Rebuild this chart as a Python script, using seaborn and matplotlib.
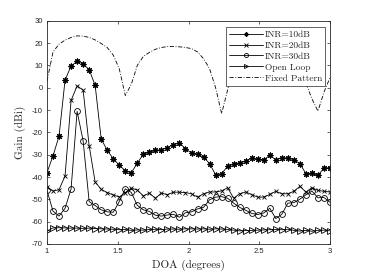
import numpy as np
import pandas as pd
import matplotlib
matplotlib.use("Agg")
import matplotlib.pyplot as plt
import seaborn as sns

# ---- data ----
doa = np.linspace(1.0, 3.0, 48)

inr10 = [-38, -30.5, -21.7, 3.4, 9.7, 11.8, 10.6, 8.1, 1.0, -23, -28, -31.8,
         -34.7, -37.2, -38.1, -33.8, -29.8, -28.9, -28.1, -27.8, -26.8, -25.5,
         -24.8, -27.3, -29.3, -29.9, -31.1, -34, -39, -38.5, -35.2, -34.2,
         -33.6, -33, -31.5, -32.1, -32.3, -30.3, -32.3, -31.3, -31.5, -32.3,
         -34, -38.5, -38.2, -39.3, -36, -35.8]

inr20 = [-44.5, -46.3, -45.7, -39.5, -5.7, 0.8, -1.1, -26, -42.3, -45.5, -47,
         -48, -49, -47, -45, -45.8, -48.5, -47.2, -49.5, -47.2, -47.9, -46.8,
         -46.8, -47, -47.5, -49, -47.5, -46.7, -46.7, -46.2, -44.8, -49.5,
         -47.5, -46.7, -47.9, -49, -49, -47.8, -46.4, -47.5, -47.5, -46.4,
         -44.2, -46.7, -44.8, -46, -46.4, -46.7]

inr30 = [-46, -55.3, -57.5, -54, -45.3, -10.6, -23.8, -51, -52.8, -54.7, -55.6,
         -55.8, -51, -45.3, -46.9, -52.7, -54.7, -55.4, -57.1, -57.5, -57,
         -56.7, -58, -56, -55.6, -54.3, -53.6, -50.2, -49, -48.8, -49.5, -51.7,
         -53.6, -54.9, -56.3, -56.8, -56.1, -54, -58.6, -56.7, -51.7, -51.5,
         -49.9, -48, -46.3, -49.3, -49.2, -51.3]

open_loop = [-64.2, -62.8, -62.7, -62.8, -62.9, -62.9, -63, -62.9, -63.1, -63.2,
             -63.3, -63.4, -63.6, -63.5, -63.9, -63.7, -63.8, -63.5, -63.4,
             -63.6, -63.3, -63.3, -63.4, -63.2, -63.2, -63.3, -63.2, -63.4,
             -63.2, -63.3, -63.5, -63.8, -64.1, -64, -63.9, -63.8, -63.7, -63.6,
             -63.5, -63.6, -63.4, -63.9, -64.2, -63.9, -64.3, -63.9, -63.8, -64.1]

fixed = [3, 16, 19.5, 21.3, 22.5, 23.2, 23.1, 22.5, 21.4, 19.8, 18, 14.6, 8.5,
         -3.5, 1.5, 10, 14, 15.8, 17.2, 18, 18.4, 18.5, 18.3, 18, 17.5, 16, 13,
         8.5, 0, -11.6, -1, 10, 14, 16.5, 18, 18.5, 18.5, 18, 16.5, 14, 11, 7,
         4, 2, -5, -10.5, -2, 4.5]

labels = ["INR=10dB", "INR=20dB", "INR=30dB", "Open Loop", "Fixed Pattern"]
x_ticks = [1, 1.5, 2, 2.5, 3]
x_tick_labels = ["1", "1.5", "2", "2.5", "3"]
y_ticks = list(range(-70, 31, 10))

# ---- style ----
sns.set_style("ticks")
plt.rcParams["font.family"] = ["Liberation Sans", "DejaVu Sans"]
plt.rcParams["axes.unicode_minus"] = False
plt.rcParams["axes.formatter.use_mathtext"] = False

fig = plt.figure(figsize=(3.65, 2.74), dpi=100)
ax = fig.add_axes([47 / 365, 1 - 244 / 274, 283 / 365, 223.3 / 274])

lw = 0.6
common = dict(ax=ax, color="black", linewidth=lw, estimator=None, sort=False)

sns.lineplot(x=doa, y=inr10, marker=(8, 2, 0), markersize=4.2,
             markeredgewidth=0.8, markeredgecolor="black", label=labels[0], **common)
sns.lineplot(x=doa, y=inr20, marker="x", markersize=3.5,
             markeredgewidth=0.6, markeredgecolor="black", label=labels[1], **common)
sns.lineplot(x=doa, y=inr30, marker="o", markersize=4.2, markerfacecolor="none",
             markeredgewidth=0.6, markeredgecolor="black", label=labels[2], **common)
sns.lineplot(x=doa, y=open_loop, marker=">", markersize=4.2, markerfacecolor="none",
             markeredgewidth=0.6, markeredgecolor="black", label=labels[3], **common)
sns.lineplot(x=doa, y=fixed, linestyle=(0, (5, 2, 1, 2)), label=labels[4], **common)

ax.set_xlim(1, 3)
ax.set_ylim(-70, 30)
ax.set_xticks(x_ticks)
ax.set_xticklabels(x_tick_labels)
ax.set_yticks(y_ticks)
ax.set_yticklabels([str(v) for v in y_ticks])
ax.tick_params(direction="in", top=True, right=True, length=2.5, width=0.5,
               labelsize=5.5, pad=3, colors="#262626", labelcolor="#262626")
for s in ax.spines.values():
    s.set_linewidth(0.6)
    s.set_color("#262626")

serif = ["cmr10", "DejaVu Serif"]
ax.set_xlabel("DOA (degrees)", family=serif, fontsize=8, labelpad=3)
ax.set_ylabel("Gain (dBi)", family=serif, fontsize=8, labelpad=4)

leg = ax.legend(loc="upper right", bbox_to_anchor=(0.981, 0.970), borderaxespad=0,
                prop={"family": serif, "size": 6.8}, handlelength=3.6,
                handletextpad=0.15, labelspacing=0.25, borderpad=0.3,
                markerscale=0.7,
                fancybox=False, framealpha=1, edgecolor="#262626")
leg.get_frame().set_linewidth(0.5)

fig.savefig("out.png", dpi=100)
